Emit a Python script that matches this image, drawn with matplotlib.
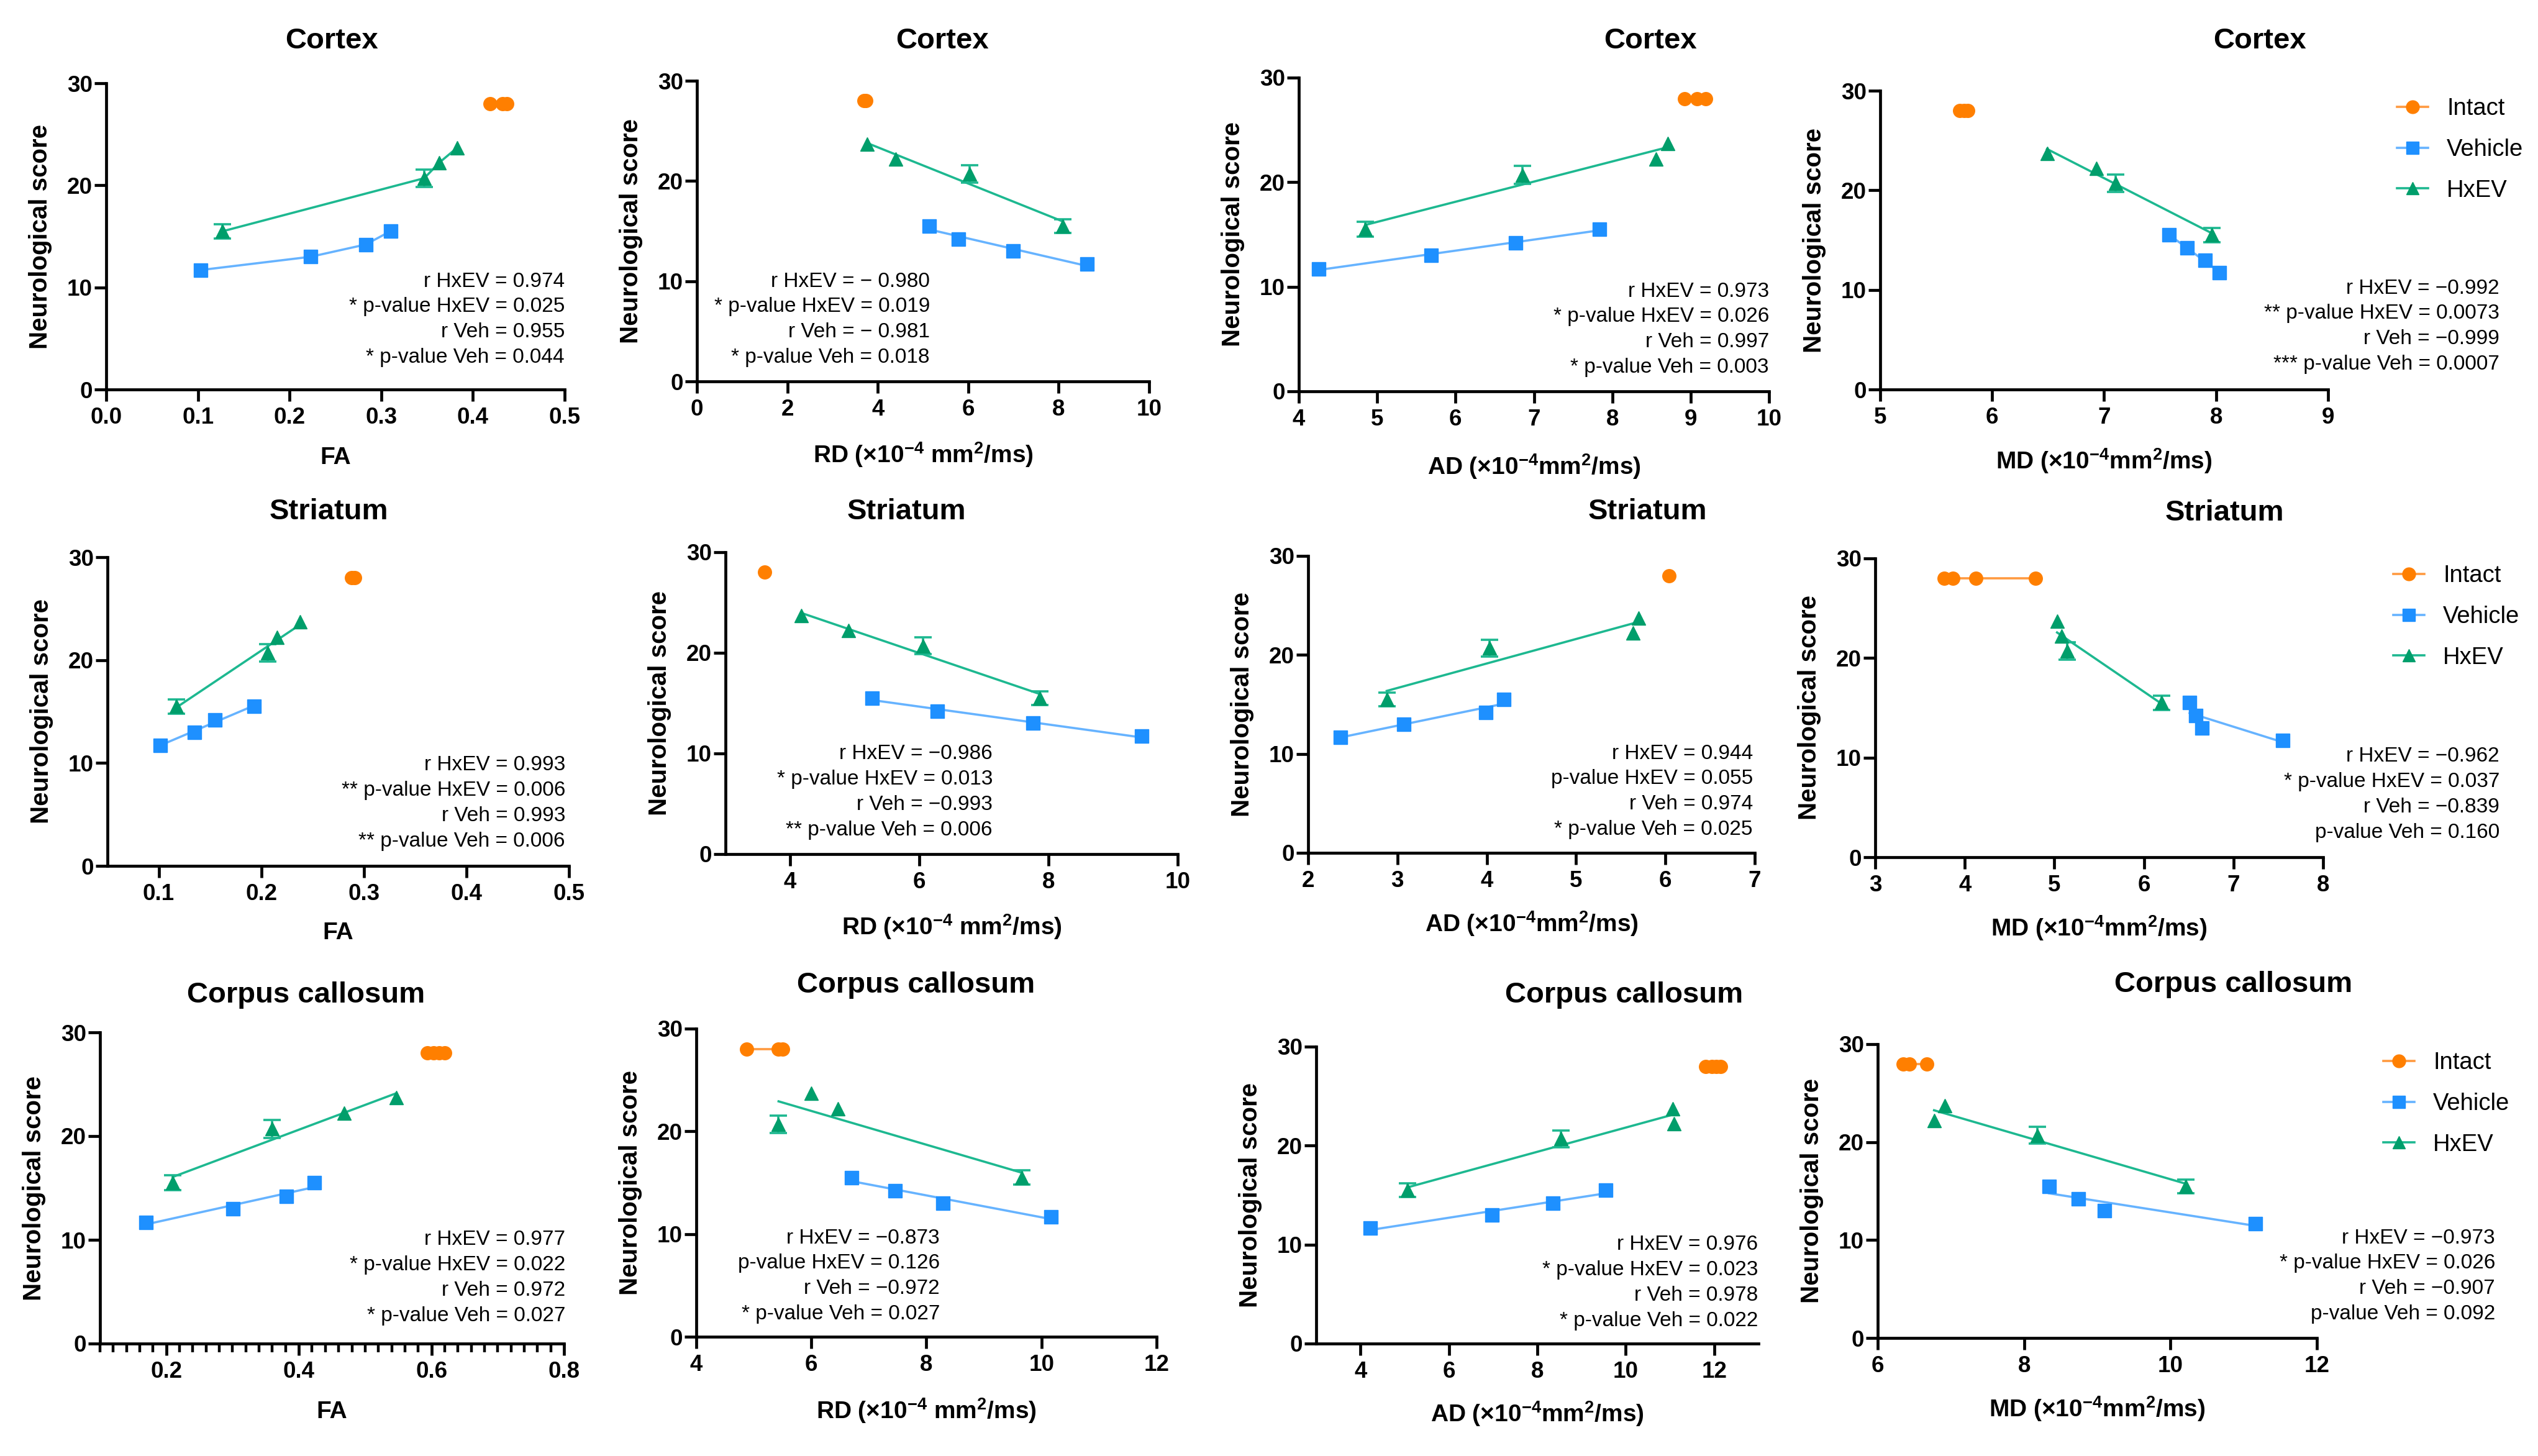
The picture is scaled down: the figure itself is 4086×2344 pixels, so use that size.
import numpy as np
import matplotlib
matplotlib.use('Agg')
import matplotlib.pyplot as plt
from matplotlib.lines import Line2D
from matplotlib.ticker import MultipleLocator, FormatStrFormatter

# neurological scores (same for every panel)
veh_score = [11.7, 13.0, 14.2, 15.5]
hxev_score = [15.5, 20.7, 22.2, 23.7]
hxev_sem = [0.7, 0.85, 0.0, 0.0]
intact_score = 28.0

# DTI values, order matches the scores above
cortex_fa_veh = [0.103, 0.223, 0.283, 0.310]
cortex_fa_hxev = [0.127, 0.347, 0.363, 0.383]
cortex_fa_intact = [0.419, 0.432, 0.437]
cortex_rd_veh = [8.62, 6.99, 5.78, 5.14]
cortex_rd_hxev = [8.09, 6.03, 4.39, 3.76]
cortex_rd_intact = [3.70, 3.74]
cortex_ad_veh = [4.25, 5.69, 6.77, 7.84]
cortex_ad_hxev = [4.85, 6.85, 8.56, 8.71]
cortex_ad_intact = [8.92, 9.08, 9.19]
cortex_md_veh = [8.03, 7.90, 7.74, 7.58]
cortex_md_hxev = [7.96, 7.10, 6.93, 6.49]
cortex_md_intact = [5.71, 5.75, 5.78]

striatum_fa_veh = [0.1015, 0.135, 0.155, 0.193]
striatum_fa_hxev = [0.117, 0.206, 0.2156, 0.2377]
striatum_fa_intact = [0.288, 0.291]
striatum_rd_veh = [9.44, 7.76, 6.28, 5.27]
striatum_rd_hxev = [7.87, 6.06, 4.90, 4.17]
striatum_rd_intact = [3.61]
striatum_ad_veh = [2.36, 3.07, 3.99, 4.19]
striatum_ad_hxev = [2.88, 4.03, 5.64, 5.70]
striatum_ad_intact = [6.04]
striatum_md_veh = [7.55, 6.65, 6.58, 6.51]
striatum_md_hxev = [6.20, 5.14, 5.08, 5.03]
striatum_md_intact = [3.77, 3.87, 4.12, 4.79]

cc_fa_veh = [0.169, 0.301, 0.381, 0.423]
cc_fa_hxev = [0.210, 0.360, 0.468, 0.547]
cc_fa_intact = [0.594, 0.603, 0.612, 0.620]
cc_rd_veh = [10.16, 8.29, 7.46, 6.70]
cc_rd_hxev = [9.66, 5.43, 6.46, 6.00]
cc_rd_intact = [4.87, 5.43, 5.50]
cc_ad_veh = [4.22, 6.98, 8.35, 9.54]
cc_ad_hxev = [5.07, 8.53, 11.09, 11.06]
cc_ad_intact = [11.80, 11.95, 12.05, 12.15]
cc_md_veh = [11.16, 9.10, 8.74, 8.34]
cc_md_hxev = [10.21, 8.18, 6.77, 6.92]
cc_md_intact = [6.35, 6.43, 6.67]

regions = ['Cortex', 'Striatum', 'Corpus callosum']
groups = ['Intact', 'Vehicle', 'HxEV']

stats = [
    ['r HxEV = 0.974', '* p-value HxEV = 0.025', 'r Veh = 0.955', '* p-value Veh = 0.044'],
    ['r HxEV = \u2212 0.980', '* p-value HxEV = 0.019', 'r Veh = \u2212 0.981', '* p-value Veh = 0.018'],
    ['r HxEV = 0.973', '* p-value HxEV = 0.026', 'r Veh = 0.997', '* p-value Veh = 0.003'],
    ['r HxEV = \u22120.992', '** p-value HxEV = 0.0073', 'r Veh = \u22120.999', '*** p-value Veh = 0.0007'],
    ['r HxEV = 0.993', '** p-value HxEV = 0.006', 'r Veh = 0.993', '** p-value Veh = 0.006'],
    ['r HxEV = \u22120.986', '* p-value HxEV = 0.013', 'r Veh = \u22120.993', '** p-value Veh = 0.006'],
    ['r HxEV = 0.944', 'p-value HxEV = 0.055', 'r Veh = 0.974', '* p-value Veh = 0.025'],
    ['r HxEV = \u22120.962', '* p-value HxEV = 0.037', 'r Veh = \u22120.839', 'p-value Veh = 0.160'],
    ['r HxEV = 0.977', '* p-value HxEV = 0.022', 'r Veh = 0.972', '* p-value Veh = 0.027'],
    ['r HxEV = \u22120.873', 'p-value HxEV = 0.126', 'r Veh = \u22120.972', '* p-value Veh = 0.027'],
    ['r HxEV = 0.976', '* p-value HxEV = 0.023', 'r Veh = 0.978', '* p-value Veh = 0.022'],
    ['r HxEV = \u22120.973', '* p-value HxEV = 0.026', 'r Veh = \u22120.907', 'p-value Veh = 0.092'],
]

sup4 = r'$^{\mathbf{-4}}$'
sup2 = r'$^{\mathbf{2}}$'
xlabels = ['FA', 'RD (\u00d710' + sup4 + ' mm' + sup2 + '/ms)',
           'AD (\u00d710' + sup4 + 'mm' + sup2 + '/ms)', 'MD (\u00d710' + sup4 + 'mm' + sup2 + '/ms)']

panel_data = [
    (cortex_fa_intact, cortex_fa_veh, cortex_fa_hxev),
    (cortex_rd_intact, cortex_rd_veh, cortex_rd_hxev),
    (cortex_ad_intact, cortex_ad_veh, cortex_ad_hxev),
    (cortex_md_intact, cortex_md_veh, cortex_md_hxev),
    (striatum_fa_intact, striatum_fa_veh, striatum_fa_hxev),
    (striatum_rd_intact, striatum_rd_veh, striatum_rd_hxev),
    (striatum_ad_intact, striatum_ad_veh, striatum_ad_hxev),
    (striatum_md_intact, striatum_md_veh, striatum_md_hxev),
    (cc_fa_intact, cc_fa_veh, cc_fa_hxev),
    (cc_rd_intact, cc_rd_veh, cc_rd_hxev),
    (cc_ad_intact, cc_ad_veh, cc_ad_hxev),
    (cc_md_intact, cc_md_veh, cc_md_hxev),
]

# axis ranges
xlims = [(0, 0.5), (0, 10), (4, 10), (5, 9),
         (0.05, 0.5), (3, 10), (2, 7), (3, 8),
         (0.1, 0.8), (4, 12), (3, 13), (6, 12)]
xticks = [np.arange(0, 0.51, 0.1), np.arange(0, 11, 2), np.arange(4, 11, 1), np.arange(5, 10, 1),
          np.arange(0.1, 0.51, 0.1), np.arange(4, 11, 2), np.arange(2, 8, 1), np.arange(3, 9, 1),
          np.arange(0.2, 0.81, 0.2), np.arange(4, 13, 2), np.arange(4, 13, 2), np.arange(6, 13, 2)]

# ---- layout (pixels) ----
W, H = 4087, 2344
boxes = [(171, 134, 909, 627), (1122, 130, 1850, 614), (2091, 125, 2848, 630), (3027, 146, 3748, 627),
         (173, 897, 916, 1394), (1168, 889, 1896, 1375), (2106, 895, 2825, 1373), (3019, 899, 3740, 1380),
         (161, 1662, 908, 2163), (1121, 1656, 1862, 2152), (2119, 1685, 2831, 2163), (3023, 1681, 3730, 2154)]
title_pos = [(534, 66), (1517, 66), (2657, 66), (3638, 66),
             (529, 824), (1459, 824), (2652, 824), (3581, 826),
             (493, 1602), (1475, 1586), (2615, 1602), (3596, 1585)]
xlab_y = [737, 732, 751, 742, 1502, 1492, 1487, 1494, 2273, 2271, 2276, 2268]
ann_pos = [(909, 453), (1497, 453), (2848, 469), (4024, 464),
           (910, 1232), (1598, 1214), (2822, 1213), (4024, 1218),
           (910, 1996), (1513, 1993), (2830, 2004), (4017, 1993)]
legend_pos = {3: (3859, 241), 7: (3853, 993), 11: (3837, 1777)}
fit_mode = ['connect'] + ['linear'] * 11

mk_col = ['#FF7F00', '#1E90FF', '#009E6B']
ln_col = ['#FF9A40', '#66B3FF', '#1DB890']
markers = ['o', 's', '^']

FONT = ['Liberation Sans', 'DejaVu Sans']
plt.rcParams['font.family'] = FONT
plt.rcParams['mathtext.fontset'] = 'custom'
plt.rcParams['mathtext.rm'] = 'Liberation Sans'
plt.rcParams['mathtext.bf'] = 'Liberation Sans:bold'
plt.rcParams['mathtext.it'] = 'Liberation Sans:italic'


def fx(px):
    return px / W


def fy(py):
    return 1 - py / H


fig = plt.figure(figsize=(W / 100, H / 100), dpi=100, facecolor='white')

for i in range(12):
    L, T, R, B = boxes[i]
    ax = fig.add_axes([fx(L), fy(B), (R - L) / W, (B - T) / H])
    intact_x, veh_x, hxev_x = panel_data[i]
    xs = [intact_x, veh_x, hxev_x]
    ys = [[intact_score] * len(intact_x), veh_score, hxev_score]

    for g in range(3):
        x = np.array(xs[g], dtype=float)
        y = np.array(ys[g], dtype=float)
        if len(x) > 1:
            if fit_mode[i] == 'connect' and g > 0:
                order = np.argsort(x)
                ax.plot(x[order], y[order], color=ln_col[g], lw=2.6, zorder=2)
            else:
                k, b = np.polyfit(x, y, 1)
                xx = np.array([x.min(), x.max()])
                ax.plot(xx, k * xx + b, color=ln_col[g], lw=2.6, zorder=2)
        if g == 2:
            sem = np.array(hxev_sem)
            m = sem > 0
            ax.errorbar(x[m], y[m], yerr=sem[m], fmt='none', ecolor=ln_col[g],
                        elinewidth=2.6, capsize=10, capthick=2.6, zorder=2)
        ax.plot(x, y, linestyle='none', marker=markers[g], ms=15.5 if g != 2 else 16.5,
                mfc=mk_col[g], mec=mk_col[g], zorder=3, clip_on=False)

    ax.set_xlim(*xlims[i])
    ax.set_ylim(0, 30)
    ax.set_xticks(xticks[i])
    ax.set_yticks([0, 10, 20, 30])
    if i in (0, 4, 8):
        ax.xaxis.set_major_formatter(FormatStrFormatter('%.1f'))
    else:
        ax.xaxis.set_major_formatter(FormatStrFormatter('%d'))
    if i == 8:
        ax.xaxis.set_minor_locator(MultipleLocator(0.02))
        ax.tick_params(axis='x', which='minor', length=10, width=3.2, direction='out')
    for s in ('top', 'right'):
        ax.spines[s].set_visible(False)
    for s in ('left', 'bottom'):
        ax.spines[s].set_linewidth(3.4)
    ax.tick_params(axis='both', which='major', length=14, width=3.4, labelsize=26.5)
    ax.tick_params(axis='x', pad=6)
    ax.tick_params(axis='y', pad=2)
    for lab in ax.get_xticklabels() + ax.get_yticklabels():
        lab.set_fontweight('bold')

    # titles and axis labels
    tx, ty = title_pos[i]
    fig.text(fx(tx), fy(ty), regions[i // 4], ha='center', va='center',
             fontsize=34, fontweight='bold')
    fig.text(fx(L - 106), fy((T + B) / 2), 'Neurological score', rotation=90,
             ha='center', va='center', fontsize=29, fontweight='bold')
    fig.text(fx((L + R) / 2), fy(xlab_y[i]), xlabels[i % 4], ha='center', va='center',
             fontsize=28, fontweight='bold')

    # correlation stats
    ax_, ay_ = ann_pos[i]
    for j, line in enumerate(stats[i]):
        fig.text(fx(ax_), fy(ay_ + j * 40.8), line, ha='right', va='center', fontsize=24)

    if i in legend_pos:
        hx, hy = legend_pos[i]
        handles = [Line2D([0], [0], color=ln_col[g], lw=2.6, marker=markers[g], ms=15,
                          mfc=mk_col[g], mec=mk_col[g]) for g in range(3)]
        fig.legend(handles, groups, loc='center left', bbox_to_anchor=(fx(hx), fy(hy)),
                   frameon=False, prop={'size': 27.5}, handlelength=1.3, handletextpad=0.8,
                   labelspacing=0.78, borderpad=0, borderaxespad=0)

fig.savefig('out.png', dpi=100, facecolor='white')
